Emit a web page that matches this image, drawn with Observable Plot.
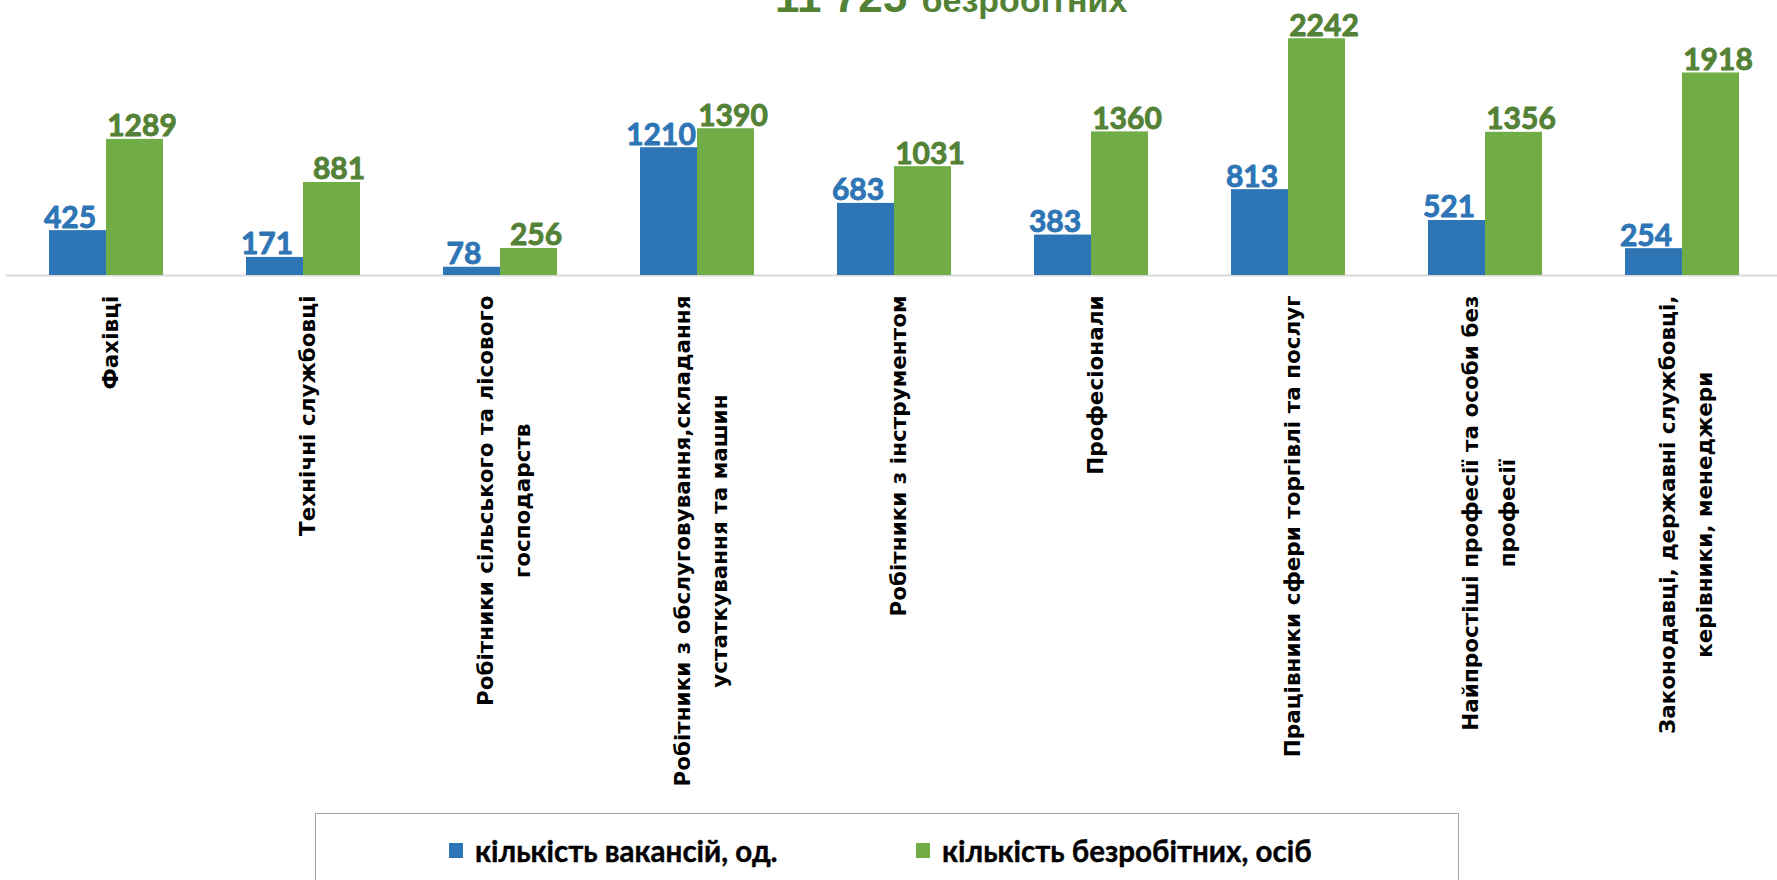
<!DOCTYPE html>
<html>
<head>
<meta charset="utf-8">
<script src="https://cdn.jsdelivr.net/npm/d3@7"></script>
<script src="https://cdn.jsdelivr.net/npm/@observablehq/plot@0.6"></script>
<style>
  html, body { margin: 0; padding: 0; background: #fff; overflow: hidden; }
  #wrap { position: relative; width: 1777px; height: 880px; overflow: hidden; }
  #chart { position: absolute; left: 0; top: 0; }
  #title { position: absolute; left: 775px; top: -25px; line-height: 1; white-space: nowrap; font-size: 30px;
           font-family: "Liberation Sans", Arial, sans-serif; font-weight: bold; color: #538135; }
  #title .big { font-size: 44px; }
  #title .small { font-size: 34px; margin-left: 6px; }
  #legend { position: absolute; left: 315px; top: 813px; width: 1144px; height: 120px;
            border: 1.5px solid #a6a6a6; box-sizing: border-box; }
  .item { position: absolute; top: 19px; display: flex; align-items: center;
          font-family: Lato, "Open Sans", sans-serif; font-weight: bold; font-size: 29.5px; color: #000;
          white-space: nowrap; -webkit-text-stroke: 0.4px #000; }
  .sw { width: 14px; height: 15px; margin-right: 12px; }
</style>
</head>
<body>
<div id="wrap">
  <div id="chart"></div>
  <div id="title"></div>
  <div id="legend"></div>
</div>
<script>
const categories = [
  "Фахівці",
  "Технічні службовці",
  "Робітники сільського та лісового господарств",
  "Робітники з обслуговування,складання устаткування та машин",
  "Робітники з інструментом",
  "Професіонали",
  "Працівники сфери торгівлі та послуг",
  "Найпростіші професії та особи без професії",
  "Законодавці, державні службовці, керівники, менеджери"
];
const tickLabels = [
  "Фахівці",
  "Технічні службовці",
  "Робітники сільського та лісового\nгосподарств",
  "Робітники з обслуговування,складання\nустаткування та машин",
  "Робітники з інструментом",
  "Професіонали",
  "Працівники сфери торгівлі та послуг",
  "Найпростіші професії та особи без\nпрофесії",
  "Законодавці, державні службовці,\nкерівники, менеджери"
];
const vacancies = [425, 171, 78, 1210, 683, 383, 813, 521, 254];
const unemployed = [1289, 881, 256, 1390, 1031, 1360, 2242, 1356, 1918];
const seriesNames = ["кількість вакансій, од.", "кількість безробітних, осіб"];
const titleBig = "11 725";
const titleSmall = "безробітних";

const barColors = ["#2e75b6", "#70ad47"];
const labelColors = ["#2e75b6", "#538135"];

const rows = [];
categories.forEach((c, i) => {
  rows.push({cat: c, series: seriesNames[0], value: vacancies[i]});
  rows.push({cat: c, series: seriesNames[1], value: unemployed[i]});
});
const labelRows = categories.map((c, i) => ({cat: c, label: tickLabels[i], base: 0}));

const valueFont = {fontFamily: "Lato, 'Open Sans', sans-serif", fontWeight: "bold", fontSize: 30, strokeWidth: 0.9};

const plot = Plot.plot({
  width: 1777,
  height: 800,
  marginTop: 11,
  marginBottom: 525,
  marginLeft: 11,
  marginRight: 0,
  fx: {domain: categories, paddingInner: 0.414, paddingOuter: 0.1845, axis: null, label: null},
  x: {domain: seriesNames, padding: 0, axis: null},
  y: {domain: [0, 2500], axis: null},
  color: {domain: seriesNames, range: barColors},
  marks: [
    Plot.ruleY([0], {stroke: "#d9d9d9", strokeWidth: 2, insetLeft: -42, insetRight: -42}),
    Plot.barY(rows, {fx: "cat", x: "series", y: "value", fill: "series"}),
    Plot.text(rows.filter(d => d.series === seriesNames[0]), {
      fx: "cat", x: "series", y: "value", text: d => String(d.value),
      fill: labelColors[0], stroke: labelColors[0], dy: -3, dx: -8, lineAnchor: "bottom", ...valueFont
    }),
    Plot.text(rows.filter(d => d.series === seriesNames[1]), {
      fx: "cat", x: "series", y: "value", text: d => String(d.value),
      fill: labelColors[1], stroke: labelColors[1], dy: -3, dx: 7, lineAnchor: "bottom", ...valueFont
    }),
    Plot.text(labelRows, {
      fx: "cat", y: "base", text: "label", rotate: -90, textAnchor: "end", lineAnchor: "middle",
      dy: 20, lineHeight: 1.72, fill: "#000",
      fontFamily: "'DejaVu Sans', sans-serif", fontWeight: "bold", fontSize: 21.5,
      className: "catlabels"
    })
  ]
});
document.getElementById("chart").appendChild(plot);

// center the lines of multi-line category labels relative to each other
plot.querySelectorAll("g.catlabels text").forEach(t => {
  const spans = t.querySelectorAll("tspan");
  if (spans.length < 2) return;
  let L = 0;
  spans.forEach(s => { L = Math.max(L, s.getComputedTextLength()); });
  spans.forEach(s => { s.setAttribute("text-anchor", "middle"); s.setAttribute("x", -L / 2); });
});

// title
const title = document.getElementById("title");
title.innerHTML = `<span class="big">${titleBig}</span> <span class="small">${titleSmall}</span>`;

// legend
const legend = document.getElementById("legend");
const lefts = [133, 600];
seriesNames.forEach((s, i) => {
  const it = document.createElement("div");
  it.className = "item";
  it.style.left = lefts[i] + "px";
  it.innerHTML = `<span class="sw" style="background:${barColors[i]}"></span><span>${s}</span>`;
  legend.appendChild(it);
});
</script>
</body>
</html>
